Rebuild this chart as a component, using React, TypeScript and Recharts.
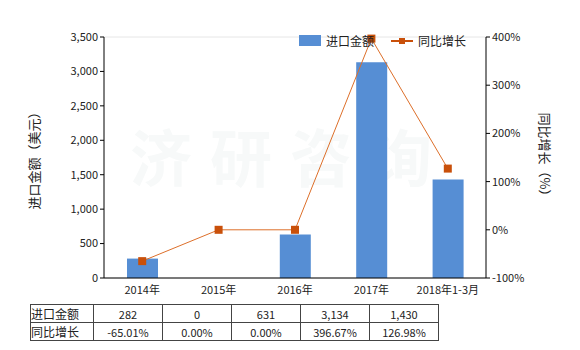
import React from "react";
import { ComposedChart, Bar, Line, XAxis, YAxis, CartesianGrid, Legend } from "recharts";

const categories = ["2014年", "2015年", "2016年", "2017年", "2018年1-3月"];
const importValues = [282, 0, 631, 3134, 1430];
const yoyGrowth = [-65.01, 0, 0, 396.67, 126.98];
const leftTicks = [0, 500, 1000, 1500, 2000, 2500, 3000, 3500];
const rightTicks = [-100, 0, 100, 200, 300, 400];

const data = categories.map((name, i) => ({
  name,
  value: importValues[i],
  yoy: yoyGrowth[i],
}));

const font = "'Noto Sans CJK SC', 'DejaVu Sans', sans-serif";
const barColor = "#568ED4";
const lineColor = "#DD6F2A";
const dotColor = "#C9500A";

const SquareDot = (props: any) => {
  const { cx, cy } = props;
  if (cx == null || cy == null) return null;
  return <rect x={cx - 4} y={cy - 4} width={8} height={8} fill={dotColor} />;
};

const LegendContent = () => (
  <div style={{ display: "flex", alignItems: "center", fontSize: 12, color: "#222", fontFamily: font }}>
    <span style={{ display: "inline-block", width: 22, height: 11, background: barColor, marginRight: 5 }} />
    <span style={{ marginRight: 17 }}>进口金额</span>
    <svg width={22} height={10} style={{ marginRight: 5 }}>
      <line x1={0} y1={5} x2={22} y2={5} stroke={dotColor} strokeWidth={2} />
      <rect x={8} y={2} width={6} height={6} fill={dotColor} />
    </svg>
    <span>同比增长</span>
  </div>
);

const fmtNum = (v: number) => v.toLocaleString("en-US");
const fmtPct = (v: number) => v.toFixed(2) + "%";

const cell: React.CSSProperties = {
  border: "1px solid #444",
  padding: 0,
  height: 17,
  textAlign: "center",
  width: 68,
};

const App = () => {
  return (
    <div style={{ position: "fixed", left: 0, top: 0, width: 580, height: 350, background: "#fff", fontFamily: font }}>
      <ComposedChart
        width={580}
        height={300}
        data={data}
        margin={{ top: 20, right: 0, bottom: 0, left: 0 }}
      >
        <text x={290} y={182} textAnchor="middle" fontSize={62} fontWeight="bold" fill="#f7f9f9" fontFamily={font} letterSpacing={18}>
          济研咨询
        </text>
        <CartesianGrid vertical={false} stroke="#e6e6e6" />
        <XAxis
          dataKey="name"
          height={22}
          tickLine={false}
          axisLine={{ stroke: "#000" }}
          tick={{ fontSize: 11, fill: "#222", fontFamily: font }}
          interval={0}
        />
        <YAxis
          yAxisId="left"
          width={104}
          domain={[0, 3500]}
          ticks={leftTicks}
          tickFormatter={fmtNum}
          axisLine={{ stroke: "#000" }}
          tickLine={{ stroke: "#000" }}
          tickSize={4}
          tick={{ fontSize: 11, fill: "#222", fontFamily: font }}
          label={{ value: "进口金额（美元）", angle: -90, position: "insideLeft", offset: 34, style: { fontSize: 13, fill: "#222", fontFamily: font, textAnchor: "middle" } }}
        />
        <YAxis
          yAxisId="right"
          orientation="right"
          width={94}
          domain={[-100, 400]}
          ticks={rightTicks}
          tickFormatter={(v: number) => v + "%"}
          axisLine={{ stroke: "#000" }}
          tickLine={{ stroke: "#000" }}
          tickSize={4}
          tick={{ fontSize: 11, fill: "#222", fontFamily: font }}
          label={{ value: "同比增长（%）", angle: 90, position: "insideRight", offset: 35, style: { fontSize: 13, fill: "#222", fontFamily: font, textAnchor: "middle" } }}
        />
        <Legend
          verticalAlign="top"
          content={<LegendContent />}
          wrapperStyle={{ position: "absolute", top: 32, left: 299, width: 200 }}
        />
        <Bar yAxisId="left" dataKey="value" fill={barColor} barSize={31} isAnimationActive={false} />
        <Line
          yAxisId="right"
          dataKey="yoy"
          type="linear"
          stroke={lineColor}
          strokeWidth={1}
          dot={<SquareDot />}
          activeDot={false}
          isAnimationActive={false}
        />
      </ComposedChart>
      <table
        style={{
          position: "absolute",
          left: 30,
          top: 304,
          borderCollapse: "collapse",
          fontSize: 11,
          color: "#222",
          fontFamily: font,
        }}
      >
        <tbody>
          <tr>
            <td style={{ ...cell, width: 62, textAlign: "left", fontSize: 12 }}>进口金额</td>
            {importValues.map((v, i) => (
              <td key={i} style={cell}>{fmtNum(v)}</td>
            ))}
          </tr>
          <tr>
            <td style={{ ...cell, width: 62, textAlign: "left", fontSize: 12 }}>同比增长</td>
            {yoyGrowth.map((v, i) => (
              <td key={i} style={cell}>{fmtPct(v)}</td>
            ))}
          </tr>
        </tbody>
      </table>
    </div>
  );
};

export default App;
